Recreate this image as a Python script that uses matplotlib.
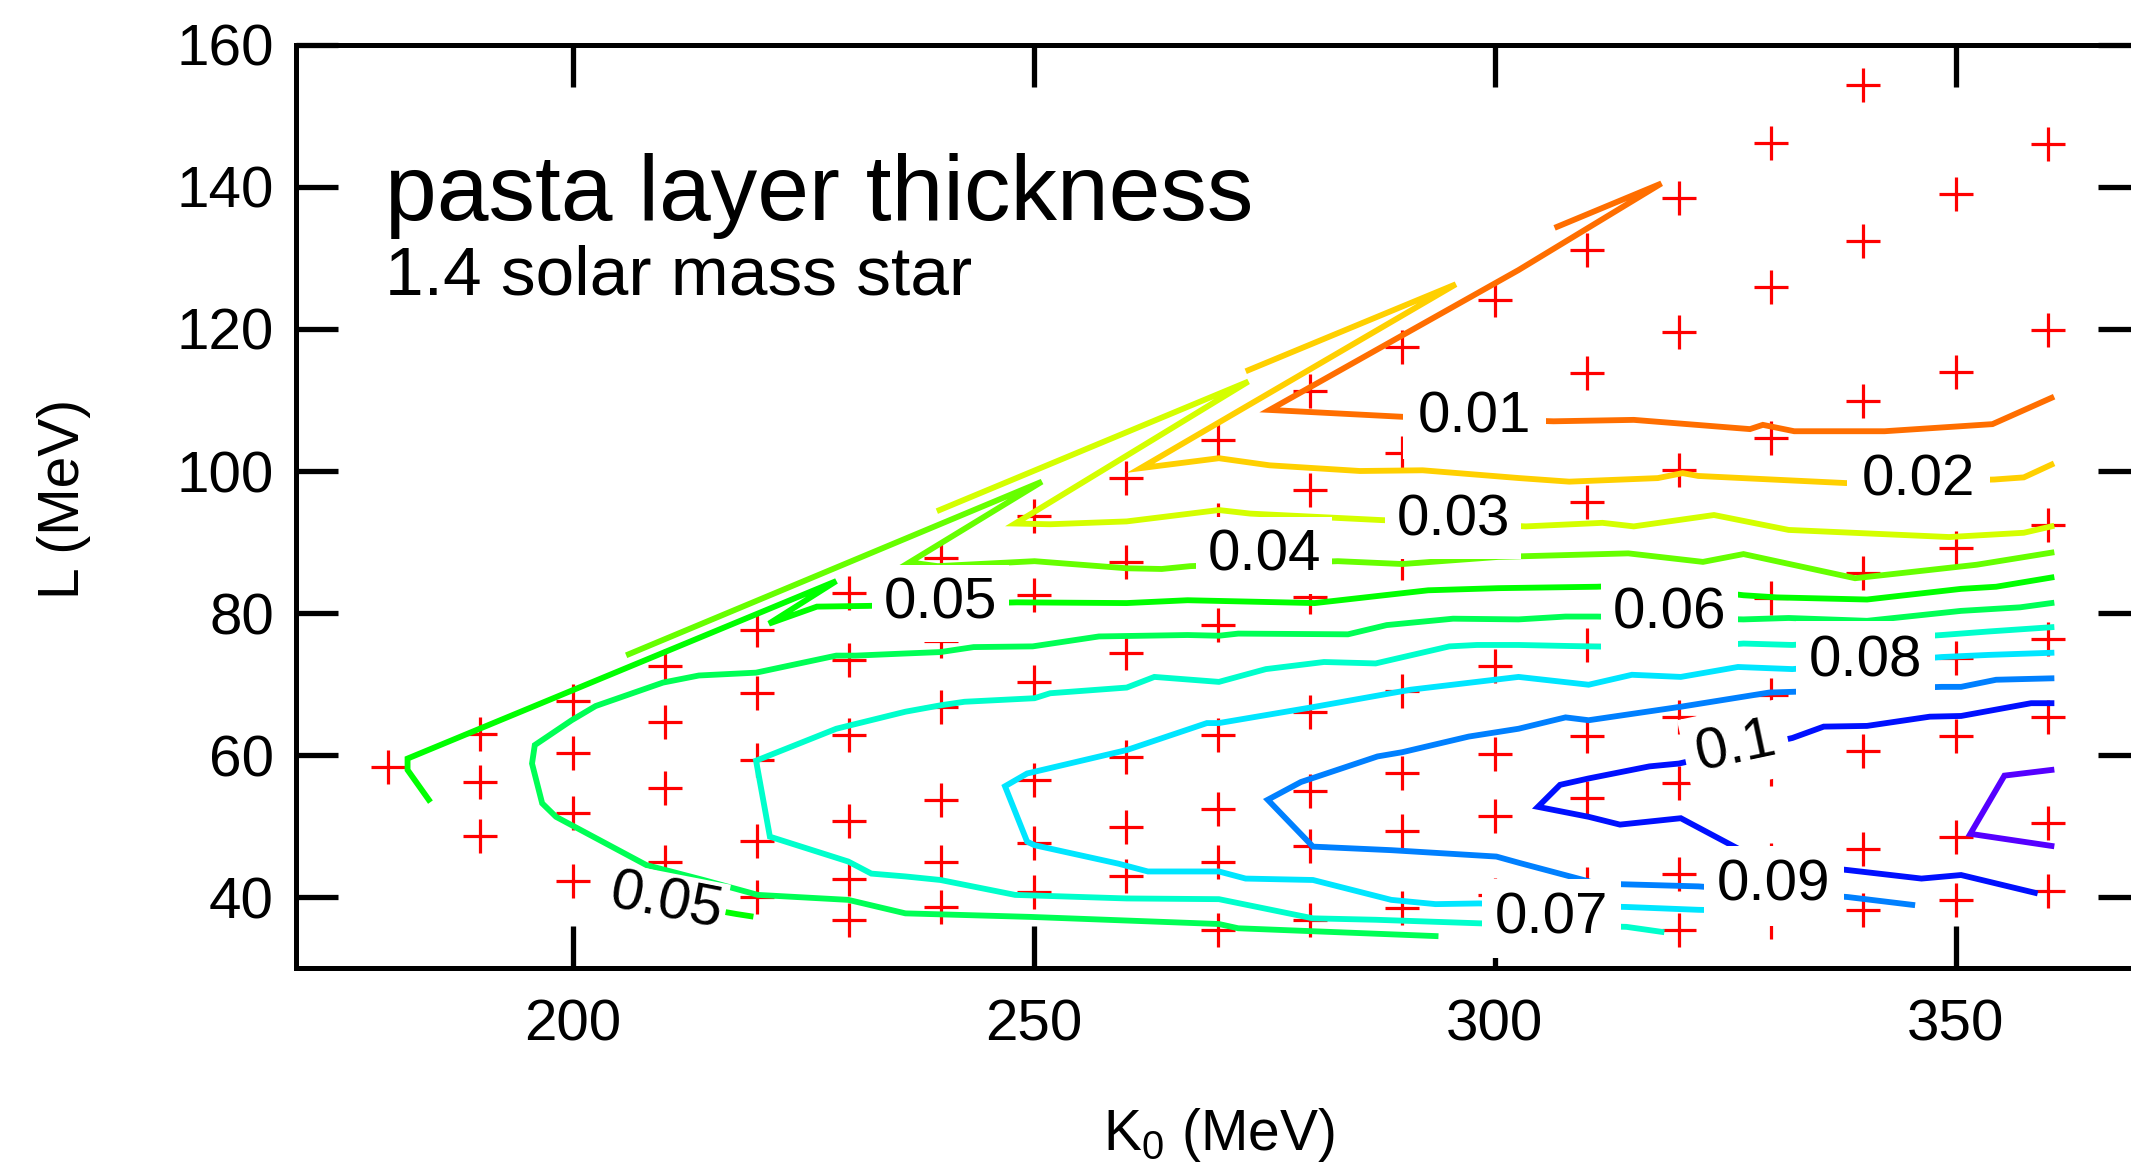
import matplotlib
matplotlib.use('Agg')
import matplotlib.pyplot as plt

plt.rcParams['font.family'] = ['Liberation Sans', 'DejaVu Sans']
plt.rcParams['mathtext.fontset'] = 'custom'
plt.rcParams['mathtext.rm'] = 'Liberation Sans'

# computed models (red crosses): K0 column -> L values (MeV)
k_cols = [180, 190, 200, 210, 220, 230, 240, 250, 260, 270,
          280, 290, 300, 310, 320, 330, 340, 350, 360]
l_cols = [
    [58.3],
    [63.0, 56.2, 48.6],
    [67.6, 60.3, 51.9, 42.2],
    [72.6, 64.6, 55.4, 45.0],
    [77.6, 68.8, 59.3, 47.9, 40.0],
    [82.8, 73.4, 62.8, 50.7, 42.6, 36.8],
    [87.7, 76.0, 66.7, 53.7, 45.0, 38.6],
    [93.6, 82.5, 70.3, 56.5, 47.6, 40.7],
    [99.0, 87.2, 74.3, 59.7, 49.9, 43.0],
    [104.4, 93.1, 78.3, 62.8, 52.4, 45.0, 35.3],
    [111.2, 97.3, 82.2, 66.0, 54.9, 47.2, 36.8],
    [117.5, 102.5, 87.0, 69.0, 57.5, 49.3, 38.4],
    [124.1, 72.5, 60.1, 51.4, 40.3],
    [131.1, 113.8, 95.7, 75.5, 62.7, 53.9, 41.9, 34.4],
    [138.4, 119.6, 100.1, 80.0, 65.4, 56.0, 43.3, 35.4],
    [146.2, 125.9, 104.6, 82.1, 68.4, 58.0, 45.2, 36.5],
    [154.4, 132.4, 109.8, 85.6, 70.5, 60.6, 46.8, 38.2],
    [139.0, 114.0, 89.1, 73.7, 62.7, 48.5, 39.6],
    [146.0, 119.9, 92.4, 76.4, 65.3, 50.4, 40.8],
]

# contour lines of the pasta layer thickness, traced as polylines
k_001 = [306.8, 318.1, 302.6, 275.6, 290.5, 306.4, 315.1, 327.7, 329.1, 332.5, 342.3, 354.0, 360.4]
l_001 = [134.4, 140.5, 128.3, 108.6, 107.6, 107.0, 107.2, 105.9, 106.5, 105.6, 105.6, 106.6, 110.3]

k_002 = [273.3, 295.8, 261.6, 270.1, 275.6, 285.4, 292.2, 302.7, 308.1, 317.7, 320.4, 322.1, 338.1, 354.2, 357.4, 360.4]
l_002 = [114.2, 126.3, 100.4, 101.8, 100.8, 100.0, 100.1, 99.0, 98.5, 99.0, 99.7, 99.3, 98.3, 98.8, 99.1, 100.9]

k_003 = [239.8, 273.3, 248.0, 251.8, 260.1, 270.1, 273.5, 287.5, 303.4, 311.7, 315.1, 323.8, 331.9, 349.3, 357.4, 360.4]
l_003 = [94.5, 112.6, 92.6, 92.5, 92.9, 94.5, 94.0, 93.1, 92.2, 92.7, 92.2, 93.8, 91.7, 90.7, 91.3, 92.2]

k_004 = [206.1, 250.9, 234.6, 237.3, 239.6, 250.1, 260.1, 263.9, 267.0, 283.0, 290.0, 300.4,
         314.5, 322.6, 327.0, 339.1, 352.3, 360.4]
l_004 = [74.2, 98.5, 85.6, 87.0, 86.6, 87.3, 86.3, 86.2, 86.6, 87.3, 86.9, 87.9,
         88.4, 87.2, 88.3, 84.9, 86.8, 88.5]

k_005 = [184.4, 182.1, 182.1, 228.6, 221.3, 226.5, 232.0, 248.2, 260.1, 266.7, 280.5, 292.8,
         300.4, 311.1, 317.0, 327.0, 330.6, 340.4, 350.6, 354.4, 360.4]
l_005 = [53.7, 57.9, 59.5, 84.5, 78.5, 80.9, 81.0, 81.5, 81.4, 81.8, 81.4, 83.2,
         83.5, 83.7, 84.0, 82.5, 82.2, 81.9, 83.4, 83.7, 85.0]

k_005b = [208.5, 213.0, 217.8, 219.3]
l_005b = [39.9, 38.7, 37.6, 37.3]

k_006 = [360.4, 357.0, 350.6, 340.4, 331.9, 327.0, 311.1, 307.7, 302.6, 295.5, 288.3, 284.1,
         272.2, 270.1, 266.7, 257.1, 249.9, 243.5, 239.9, 236.1, 230.7, 228.6, 219.9, 213.7,
         209.8, 202.5, 199.9, 195.9, 195.6, 196.7, 198.2, 208.0, 214.2, 220.1, 229.9, 236.1,
         249.7, 270.1, 272.2, 293.6]
l_006 = [81.4, 80.8, 80.3, 78.9, 79.3, 79.1, 79.5, 79.5, 79.1, 79.2, 78.3, 77.0,
         77.1, 76.8, 76.9, 76.7, 75.3, 75.2, 74.5, 74.3, 74.0, 74.0, 71.6, 71.2,
         70.2, 66.9, 64.9, 61.4, 58.8, 53.2, 51.3, 44.5, 42.4, 40.3, 39.6, 37.7,
         37.2, 36.2, 35.6, 34.5]

k_007 = [360.4, 353.6, 348.5, 332.3, 327.0, 320.4, 310.0, 302.6, 298.1, 295.1, 287.1, 281.5,
         275.2, 270.1, 263.1, 260.1, 251.8, 250.1, 242.5, 239.9, 236.1, 228.6, 219.9, 221.4,
         229.9, 232.4, 236.1, 239.9, 248.0, 260.1, 270.1, 280.3, 287.1, 298.3, 314.3, 318.1]
l_007 = [78.0, 77.4, 76.9, 75.5, 75.7, 75.1, 75.3, 75.5, 75.5, 75.3, 72.9, 73.1,
         72.1, 70.3, 71.0, 69.5, 68.7, 68.0, 67.5, 67.0, 66.1, 63.7, 59.2, 48.5,
         45.0, 43.3, 42.9, 42.4, 40.3, 39.8, 39.7, 37.0, 36.8, 36.3, 35.8, 35.1]

k_008 = [360.4, 353.6, 348.5, 332.3, 326.4, 320.2, 314.9, 310.2, 302.6, 290.9, 280.1, 270.1,
         268.8, 260.1, 249.3, 246.9, 249.3, 250.1, 259.2, 262.4, 270.1, 273.0, 280.3, 288.8,
         293.6, 298.3, 314.3, 322.1, 326.0]
l_008 = [74.4, 74.1, 73.8, 72.1, 72.4, 71.0, 71.3, 69.9, 71.0, 69.2, 66.7, 64.5,
         64.5, 60.7, 57.4, 55.6, 47.8, 47.3, 44.7, 43.6, 43.6, 42.6, 42.4, 39.6,
         39.0, 39.1, 38.6, 38.2, 38.1]

k_009 = [360.4, 354.4, 350.6, 348.5, 332.3, 329.8, 320.2, 310.2, 307.7, 302.6, 297.2, 290.0,
         287.3, 279.0, 275.4, 280.3, 288.8, 300.2, 302.7, 311.1, 322.1, 338.3, 345.3]
l_009 = [70.8, 70.6, 69.6, 69.6, 68.9, 68.8, 66.8, 64.9, 65.3, 63.7, 62.6, 60.4,
         59.8, 56.2, 53.7, 47.1, 46.6, 45.7, 44.8, 41.9, 41.5, 40.0, 38.9]

k_010 = [360.4, 358.2, 350.6, 347.2, 340.4, 335.7, 332.3, 320.0, 316.8, 310.2, 307.1, 304.7,
         310.2, 313.6, 320.2, 328.9, 338.3, 346.3, 350.6, 358.6]
l_010 = [67.3, 67.3, 65.5, 65.4, 64.1, 64.0, 62.4, 58.8, 58.4, 56.7, 55.8, 52.7,
         51.3, 50.2, 51.1, 45.1, 43.8, 42.6, 43.1, 40.6]

k_011 = [360.4, 355.3, 351.6, 360.4]
l_011 = [57.9, 57.1, 48.9, 47.2]

# contour labels
label_text = ['0.01', '0.02', '0.03', '0.04', '0.05', '0.06', '0.08', '0.1', '0.09', '0.07', '0.05']
label_k = [297.8, 346.0, 295.5, 275.0, 239.9, 319.0, 340.2, 326.2, 330.3, 306.2, 210.2]
label_l = [107.6, 98.6, 93.0, 88.1, 81.3, 80.0, 73.2, 61.1, 41.6, 37.0, 39.2]
label_rot = [0, 0, 0, 0, 0, 0, 0, 12, 0, 0, -11]
label_pad = [0.25, 0.25, 0.2, 0.2, 0.2, 0.2, 0.22, 0.2, 0.22, 0.22, 0.05]

lines = [
    (k_001, l_001, '#ff6e00'),
    (k_002, l_002, '#ffd000'),
    (k_003, l_003, '#d4ff00'),
    (k_004, l_004, '#66ff00'),
    (k_005, l_005, '#00ff00'),
    (k_005b, l_005b, '#00ff00'),
    (k_006, l_006, '#00ff55'),
    (k_007, l_007, '#00ffcc'),
    (k_008, l_008, '#00e6ff'),
    (k_009, l_009, '#0080ff'),
    (k_010, l_010, '#0010ff'),
    (k_011, l_011, '#5500ff'),
]

fig = plt.figure(figsize=(21.31, 11.68), dpi=100)
ax = fig.add_axes([0.1389, 0.1712, 0.8653, 0.7903])

pts_k = []
pts_l = []
for k, ls in zip(k_cols, l_cols):
    pts_k += [k] * len(ls)
    pts_l += ls
ax.plot(pts_k, pts_l, '+', color='#ff0000', markersize=25, mew=2.3, zorder=2)

for ks, ls, c in lines:
    ax.plot(ks, ls, '-', color=c, lw=4.2, zorder=3, solid_joinstyle='miter')

for t, k, l, r, p in zip(label_text, label_k, label_l, label_rot, label_pad):
    ax.text(k, l, t, fontsize=42, ha='center', va='center', rotation=r,
            rotation_mode='anchor', zorder=5,
            bbox=dict(boxstyle='square,pad=%g' % p, fc='white', ec='none'))

ax.text(179.6, 135.4, 'pasta layer thickness', fontsize=67, ha='left', va='baseline')
ax.text(179.6, 124.8, '1.4 solar mass star', fontsize=50, ha='left', va='baseline')

ax.set_xlim(170, 370)
ax.set_ylim(30, 160)
ax.set_xticks([200, 250, 300, 350])
ax.set_yticks([40, 60, 80, 100, 120, 140, 160])
ax.tick_params(direction='in', top=True, right=True, length=30, width=3.8,
               labelsize=42, zorder=6)
ax.tick_params(axis='x', pad=22)
ax.tick_params(axis='y', pad=16)
for s in ax.spines.values():
    s.set_linewidth(3.6)
    s.set_zorder(6)

ax.text(-0.1258, 0.508, 'L (MeV)', rotation=90, transform=ax.transAxes,
        fontsize=41, ha='center', va='center')
ax.text(0.5005, -0.181, r'K$_0$ (MeV)', transform=ax.transAxes,
        fontsize=41, ha='center', va='center')

fig.savefig('out.png', dpi=100)
